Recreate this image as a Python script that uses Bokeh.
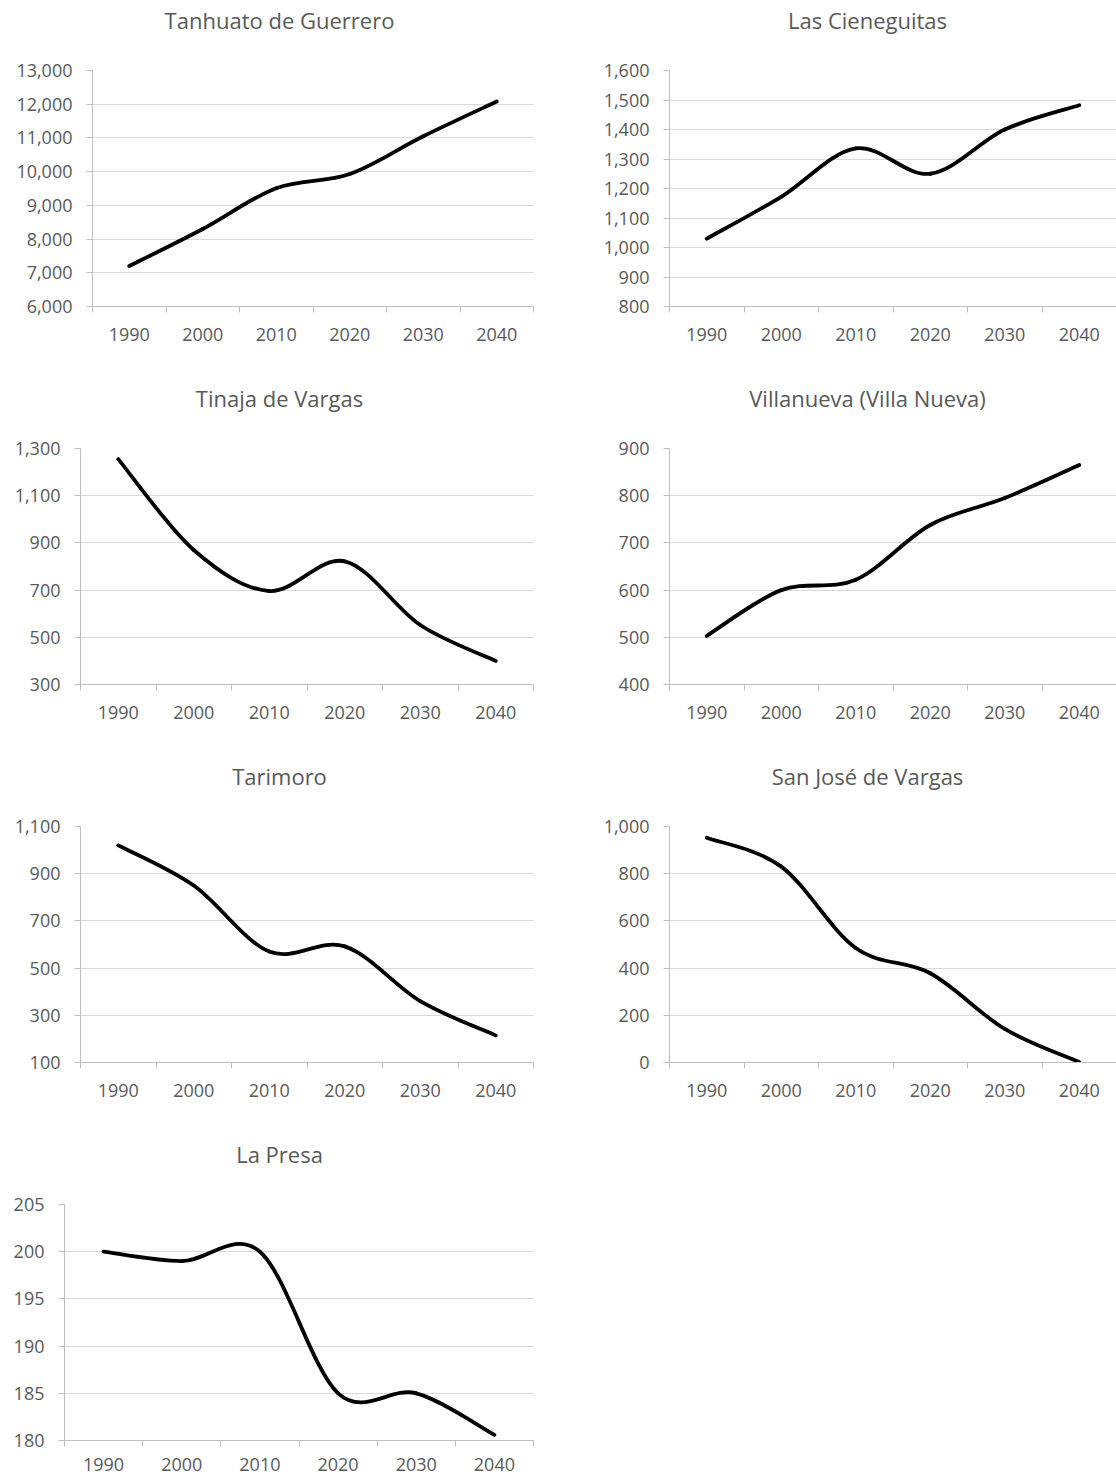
from bokeh.plotting import figure
from bokeh.models import Range1d, FixedTicker, NumeralTickFormatter, Label, ColumnDataSource
from bokeh.layouts import column, row
from bokeh.embed import file_html
from bokeh.resources import INLINE

# ---------------- data ----------------
years = [1990, 2000, 2010, 2020, 2030, 2040]

titles = ["Tanhuato de Guerrero", "Las Cieneguitas", "Tinaja de Vargas",
          "Villanueva (Villa Nueva)", "Tarimoro", "San José de Vargas", "La Presa"]

tanhuato_de_guerrero = [7200, 8300, 9510, 9930, 11050, 12080]
las_cieneguitas = [1030, 1172, 1336, 1250, 1400, 1482]
tinaja_de_vargas = [1255, 870, 696, 822, 552, 400]
villanueva = [503, 600, 622, 738, 795, 865]
tarimoro = [1020, 850, 570, 592, 360, 215]
san_jose_de_vargas = [952, 830, 485, 378, 142, 2]
la_presa = [200, 199, 200, 185, 185, 180.6]

ticks_tanhuato = [6000, 7000, 8000, 9000, 10000, 11000, 12000, 13000]
ticks_cieneguitas = [800, 900, 1000, 1100, 1200, 1300, 1400, 1500, 1600]
ticks_tinaja = [300, 500, 700, 900, 1100, 1300]
ticks_villanueva = [400, 500, 600, 700, 800, 900]
ticks_tarimoro = [100, 300, 500, 700, 900, 1100]
ticks_sanjose = [0, 200, 400, 600, 800, 1000]
ticks_lapresa = [180, 185, 190, 195, 200, 205]

series = [tanhuato_de_guerrero, las_cieneguitas, tinaja_de_vargas, villanueva,
          tarimoro, san_jose_de_vargas, la_presa]
ticks = [ticks_tanhuato, ticks_cieneguitas, ticks_tinaja, ticks_villanueva,
         ticks_tarimoro, ticks_sanjose, ticks_lapresa]

# ---------------- style ----------------
FONT = "Open Sans"
TXT = "#595959"
GRID = "#d9d9d9"
AXIS = "#bfbfbf"
FRAME_H = 236
TITLE_H = 58
TOP = 12
PITCH = 378
WIN_H = 1477
LEFT_TITLE_CX = 279
RIGHT_TITLE_CX = 311   # within the right-hand figure


def smooth_segments(xs, ys):
    n = len(xs)
    d = dict(x0=[], y0=[], x1=[], y1=[], cx0=[], cy0=[], cx1=[], cy1=[])
    for i in range(n - 1):
        a = max(i - 1, 0)
        b = min(i + 2, n - 1)
        d["x0"].append(xs[i]); d["y0"].append(ys[i])
        d["x1"].append(xs[i + 1]); d["y1"].append(ys[i + 1])
        d["cx0"].append(xs[i] + (xs[i + 1] - xs[a]) / 6.0)
        d["cy0"].append(ys[i] + (ys[i + 1] - ys[a]) / 6.0)
        d["cx1"].append(xs[i + 1] - (xs[b] - xs[i]) / 6.0)
        d["cy1"].append(ys[i + 1] - (ys[b] - ys[i]) / 6.0)
    return ColumnDataSource(d)


def make_title(text, fig_w, border_left, border_right, center_px):
    frac = (center_px - border_left) / float(fig_w - border_left - border_right)
    t = figure(width=fig_w, height=TITLE_H, output_backend="svg", toolbar_location=None,
               x_axis_type=None, y_axis_type=None,
               x_range=Range1d(0, 1), y_range=Range1d(0, TITLE_H),
               min_border=0)
    t.outline_line_color = None
    t.grid.visible = False
    t.background_fill_color = "white"
    t.border_fill_color = "white"
    t.add_layout(Label(x=frac, y=TITLE_H - 28.5 + 9, text=text,
                       text_align="center", text_baseline="alphabetic",
                       text_font=FONT, text_font_size="22px", text_color=TXT))
    return t


def make_chart(values, yt, fig_w, border_left, border_right, height, bottom, x_standoff):
    half = (years[1] - years[0]) / 2.0
    p = figure(width=fig_w, height=height, output_backend="svg", toolbar_location=None,
               x_range=Range1d(years[0] - half, years[-1] + half),
               y_range=Range1d(yt[0], yt[-1]),
               min_border_left=border_left, min_border_right=border_right,
               min_border_top=TOP, min_border_bottom=bottom)
    p.outline_line_color = None
    p.background_fill_color = "white"
    p.border_fill_color = "white"

    p.xgrid.visible = False
    p.ygrid.ticker = FixedTicker(ticks=yt)
    p.ygrid.grid_line_color = GRID
    p.ygrid.grid_line_width = 1

    ya = p.yaxis[0]
    ya.ticker = FixedTicker(ticks=yt)
    ya.formatter = NumeralTickFormatter(format="0,0")
    ya.axis_line_color = AXIS
    ya.major_tick_line_color = AXIS
    ya.major_tick_out = 6
    ya.major_tick_in = 0
    ya.minor_tick_line_color = None
    ya.major_label_standoff = 14
    ya.major_label_text_font = FONT
    ya.major_label_text_font_size = "18px"
    ya.major_label_text_color = TXT

    bounds = [y - half for y in years] + [years[-1] + half]
    xa = p.xaxis[0]
    xa.ticker = FixedTicker(ticks=years, minor_ticks=bounds)
    xa.major_label_overrides = {y: str(y) for y in years}
    xa.axis_line_color = AXIS
    xa.major_tick_line_color = None
    xa.major_tick_out = 0
    xa.major_tick_in = 0
    xa.minor_tick_line_color = AXIS
    xa.minor_tick_out = 6
    xa.minor_tick_in = 0
    xa.major_label_standoff = x_standoff
    xa.major_label_text_font = FONT
    xa.major_label_text_font_size = "18px"
    xa.major_label_text_color = TXT

    src = smooth_segments(years, values)
    p.bezier(x0="x0", y0="y0", x1="x1", y1="y1", cx0="cx0", cy0="cy0",
             cx1="cx1", cy1="cy1", source=src, line_color="black",
             line_width=3.8, line_cap="round")
    return p


LEFT_W = 556
RIGHT_W = 560
LEFT_RIGHT_PAD = 23
CHART_H = PITCH - TITLE_H
B = CHART_H - TOP - FRAME_H
LAST_CHART_H = WIN_H - 3 * PITCH - TITLE_H
LAST_B = LAST_CHART_H - TOP - FRAME_H


def cell(i, left_col, border_left, h=CHART_H, b=B, standoff=15):
    if left_col:
        w, br, cx = LEFT_W, LEFT_RIGHT_PAD, LEFT_TITLE_CX
    else:
        w, br, cx = RIGHT_W, 0, RIGHT_TITLE_CX
    t = make_title(titles[i], w, border_left, br, cx)
    c = make_chart(series[i], ticks[i], w, border_left, br, h, b, standoff)
    return column(t, c)


layout = column(
    row(cell(0, True, 92), cell(1, False, 113)),
    row(cell(2, True, 80), cell(3, False, 113)),
    row(cell(4, True, 80), cell(5, False, 113)),
    row(cell(6, True, 64, LAST_CHART_H, LAST_B, 11)),
)

open("out.html", "w").write(file_html(layout, INLINE))
